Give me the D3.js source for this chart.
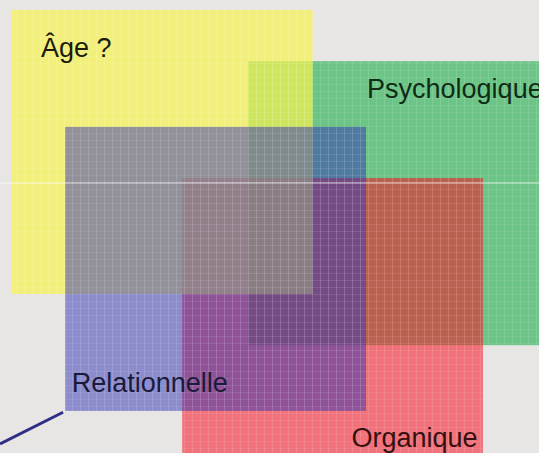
<!DOCTYPE html>
<html>
<head>
<meta charset="utf-8">
<script src="https://cdn.jsdelivr.net/npm/d3@7"></script>
<style>
  html, body { margin: 0; padding: 0; background: #e8e6e5; overflow: hidden; }
  svg { display: block; }
</style>
</head>
<body>
<div id="chart"></div>
<script>
// boxes, in percent of the slide (x of 100 wide, y of 100 high)
const labels = ["Psychologique", "Organique", "Âge ?", "Relationnelle"];
const boxX = [46.0, 33.8, 2.2, 12.1];
const boxY = [13.5, 39.3, 2.2, 28.0];
const boxW = [55.8, 55.8, 55.8, 55.8];
const boxH = [62.7, 62.7, 62.7, 62.7];
const labelX = [68.1, 65.2, 7.6, 13.3];
const labelY = [21.6, 98.7, 12.6, 86.5];
// connector line leaving the "Relationnelle" box
const lineX = [0, 11.7];
const lineY = [98.0, 91.0];
// faint slide guide line
const guideY = 40.4;

const width = 539;
const height = 453;

const colors = ["rgb(8,168,58)", "rgb(247,18,34)", "rgb(247,243,79)", "rgb(49,51,182)"];
const opac = [0.55, 0.55, 0.7, 0.5];
const textColors = ["#0e2c16", "#361010", "#1c1c0e", "#1a1a3a"];

const x = d3.scaleLinear().domain([0, 100]).range([0, width]);
const y = d3.scaleLinear().domain([0, 100]).range([0, height]);

const data = labels.map((name, i) => ({
    name, x: boxX[i], y: boxY[i], w: boxW[i], h: boxH[i],
    lx: labelX[i], ly: labelY[i], color: colors[i], op: opac[i], tc: textColors[i]
}));

const svg = d3.select("#chart").append("svg")
    .attr("width", width)
    .attr("height", height)
    .attr("viewBox", [0, 0, width, height]);

// grid texture
const defs = svg.append("defs");
const pat = defs.append("pattern")
    .attr("id", "mesh")
    .attr("patternUnits", "userSpaceOnUse")
    .attr("width", 8)
    .attr("height", 7);
pat.append("line")
    .attr("x1", 0.5).attr("x2", 0.5).attr("y1", 0).attr("y2", 7)
    .attr("stroke", "white").attr("stroke-opacity", 0.12);
pat.append("line")
    .attr("x1", 0).attr("x2", 8).attr("y1", 0.5).attr("y2", 0.5)
    .attr("stroke", "white").attr("stroke-opacity", 0.07);

svg.append("rect")
    .attr("width", width)
    .attr("height", height)
    .attr("fill", "#e8e6e5");

svg.append("line")
    .attr("x1", x(lineX[0])).attr("y1", y(lineY[0]))
    .attr("x2", x(lineX[1])).attr("y2", y(lineY[1]))
    .attr("stroke", "#2e2e86")
    .attr("stroke-width", 3);

const boxes = svg.append("g")
    .selectAll("g")
    .data(data)
    .join("g");

boxes.append("rect")
    .attr("x", d => x(d.x))
    .attr("y", d => y(d.y))
    .attr("width", d => x(d.w))
    .attr("height", d => y(d.h))
    .attr("fill", d => d.color)
    .attr("fill-opacity", d => d.op);

boxes.append("rect")
    .attr("x", d => x(d.x))
    .attr("y", d => y(d.y))
    .attr("width", d => x(d.w))
    .attr("height", d => y(d.h))
    .attr("fill", "url(#mesh)");

svg.append("line")
    .attr("x1", 0).attr("x2", width)
    .attr("y1", y(guideY)).attr("y2", y(guideY))
    .attr("stroke", "white")
    .attr("stroke-opacity", 0.7);

svg.append("g")
    .selectAll("text")
    .data(data)
    .join("text")
    .attr("x", d => x(d.lx))
    .attr("y", d => y(d.ly))
    .attr("fill", d => d.tc)
    .attr("font-family", "Liberation Sans, Arial, sans-serif")
    .attr("font-size", 27)
    .text(d => d.name);
</script>
</body>
</html>
